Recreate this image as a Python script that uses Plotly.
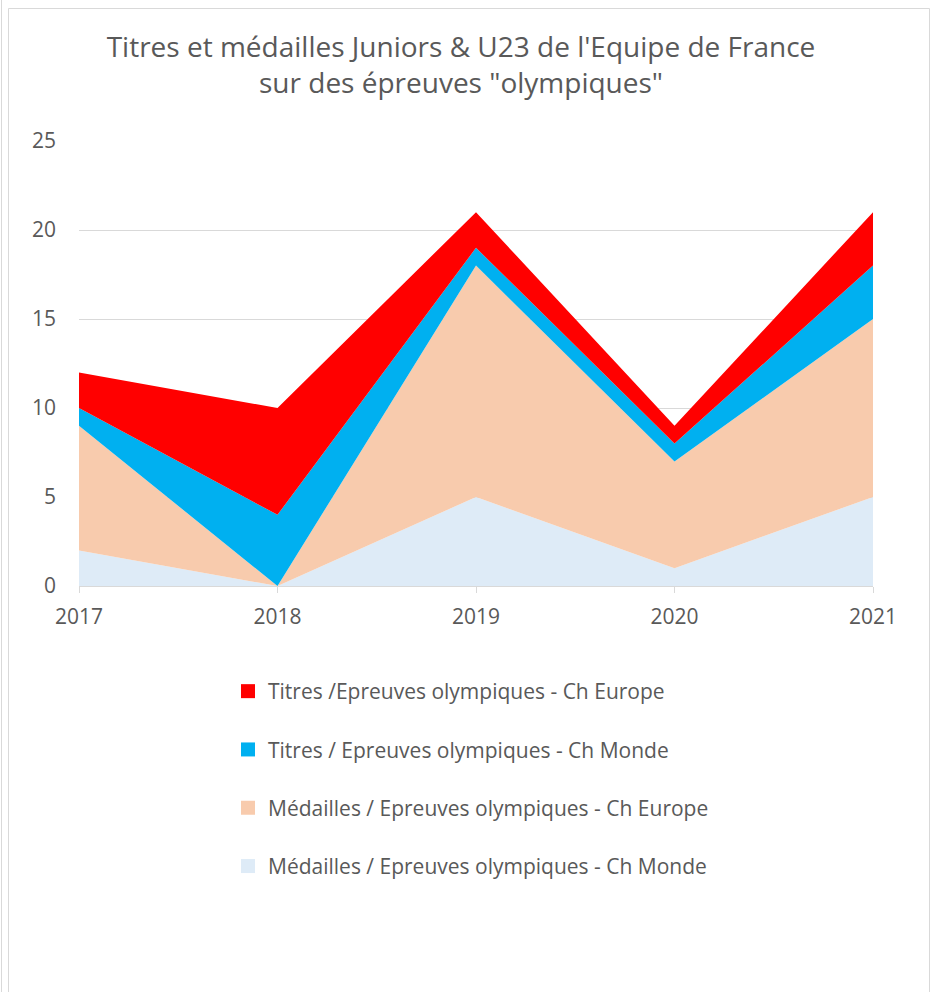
import plotly.graph_objects as go

years = [2017, 2018, 2019, 2020, 2021]
medailles_monde = [2, 0, 5, 1, 5]
medailles_europe = [7, 0, 13, 6, 10]
titres_monde = [1, 4, 1, 1, 3]
titres_europe = [2, 6, 2, 1, 3]

# stacking order: bottom to top; legend rank: top of legend first
series = [
    ("Médailles / Epreuves olympiques - Ch Monde", medailles_monde, "#DEEBF7", 4),
    ("Médailles / Epreuves olympiques - Ch Europe", medailles_europe, "#F8CBAD", 3),
    ("Titres / Epreuves olympiques - Ch Monde", titres_monde, "#00B0F0", 2),
    ("Titres /Epreuves olympiques - Ch Europe", titres_europe, "#FF0000", 1),
]

W, H = 932, 992
L, R, T, B = 79, 873, 141, 586
FONT = "'Open Sans', sans-serif"
TXT = "#595959"
GRID = "#D9D9D9"

fig = go.Figure()
for name, vals, col, rank in series:
    fig.add_trace(go.Scatter(
        x=years, y=vals, name=name, mode="lines",
        stackgroup="one", fillcolor=col,
        line=dict(width=0, color=col),
        legendgroup=name, legendrank=rank, showlegend=False,
        hoverinfo="x+y+name",
    ))
for name, vals, col, rank in series:
    fig.add_trace(go.Scatter(
        x=[None], y=[None], name=name, mode="markers",
        marker=dict(symbol="square", size=14, color=col, line=dict(width=0)),
        legendgroup=name, legendrank=rank, showlegend=True,
        hoverinfo="skip",
    ))

def px_x(p):
    return (p - L) / (R - L)

def px_y(p):
    return (B - p) / (B - T)

shapes = [
    dict(type="line", xref="paper", yref="paper",
         x0=px_x(1.5), x1=px_x(1.5), y0=px_y(0), y1=px_y(H + 5),
         line=dict(color=GRID, width=1)),
    dict(type="rect", xref="paper", yref="paper",
         x0=px_x(8.5), x1=px_x(929.5), y0=px_y(8.5), y1=px_y(H + 20),
         line=dict(color=GRID, width=1)),
]

fig.update_layout(
    width=W, height=H,
    margin=dict(l=L, r=W - R, t=T, b=H - B),
    paper_bgcolor="white", plot_bgcolor="white",
    font=dict(family=FONT, color=TXT, size=21),
    title=dict(
        text="Titres et médailles Juniors & U23 de l'Equipe de France<br>sur des épreuves \"olympiques\"",
        x=px_x(461), xanchor="center", xref="paper", y=1 - 57 / H, yanchor="middle",
        font=dict(family=FONT, size=28, color=TXT),
    ),
    xaxis=dict(
        range=[2017, 2021], tickmode="array", tickvals=years, ticktext=[str(y) for y in years],
        showgrid=False, zeroline=False, showline=True, linecolor=GRID, linewidth=1,
        ticks="outside", ticklen=6, tickcolor=GRID, tickfont=dict(size=21, color=TXT),
        ticklabelstandoff=6,
    ),
    yaxis=dict(
        range=[0, 25], tickmode="array", tickvals=[0, 5, 10, 15, 20, 25],
        showgrid=True, gridcolor=GRID, gridwidth=1, zeroline=False, showline=False,
        ticks="", tickfont=dict(size=21, color=TXT), ticklabelstandoff=22,
    ),
    legend=dict(
        x=px_x(228), xanchor="left", y=px_y(671), yanchor="top",
        traceorder="grouped", tracegroupgap=28,
        font=dict(size=21, color=TXT), bgcolor="rgba(0,0,0,0)",
        itemwidth=30,
    ),
    shapes=shapes,
    showlegend=True,
)

# remove the default 8px page margin so figure pixels match the screen
fig.write_html(
    "out.html",
    config={"displayModeBar": False},
    post_script="document.body.style.margin='0';",
)
